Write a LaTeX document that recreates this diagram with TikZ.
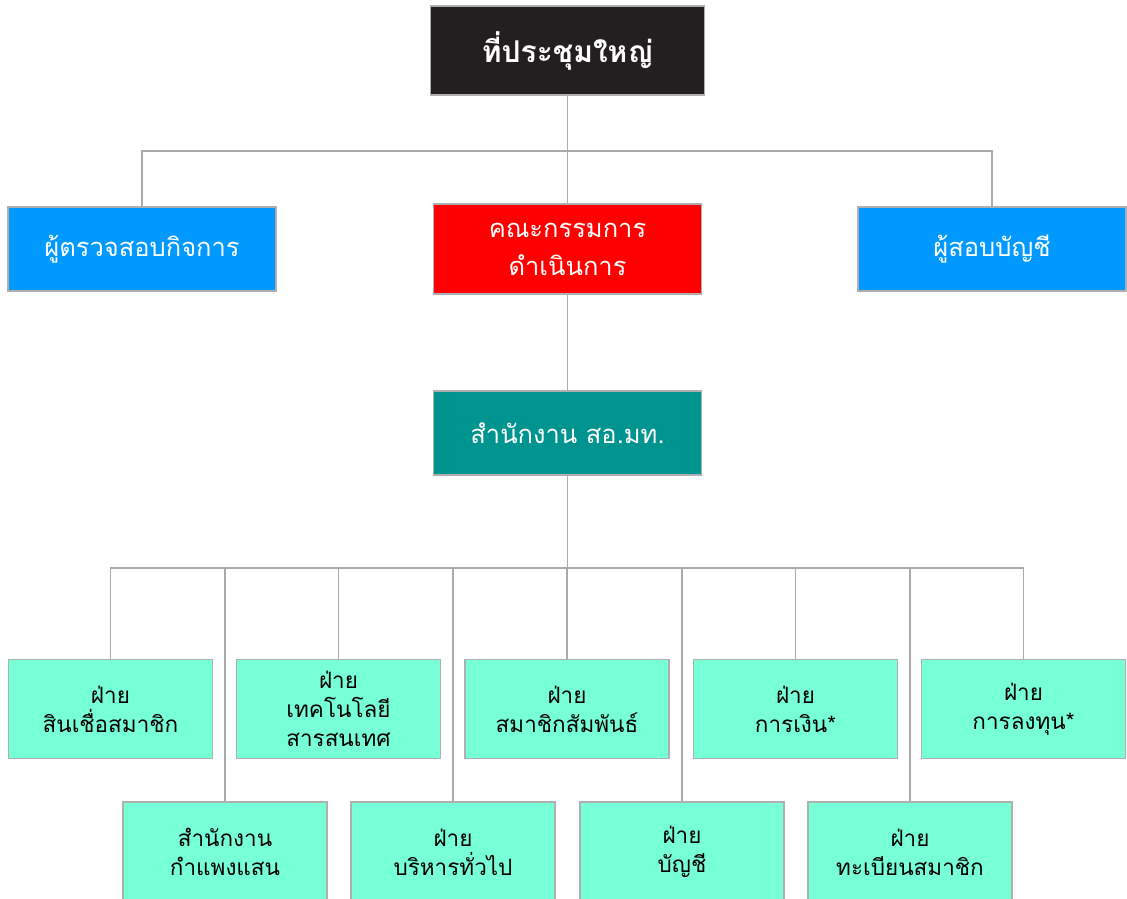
\documentclass[tikz,border=0pt]{standalone}
\usepackage{fontspec}
\newfontfamily\thai[Script=Thai]{Loma}
\definecolor{lineg}{RGB}{170,170,170}
\definecolor{boxline}{RGB}{175,175,175}
\definecolor{topfill}{RGB}{35,31,32}
\definecolor{bluefill}{RGB}{0,153,255}
\definecolor{tealfill}{RGB}{0,148,144}
\definecolor{mintfill}{RGB}{119,255,214}
\begin{document}
\begin{tikzpicture}[x=1pt,y=-1pt,
  box/.style={draw=boxline, line width=1.3pt, align=center, inner sep=0pt,
    font=\thai\fontsize{22.5}{29}\selectfont},
  bigbox/.style={box, minimum width=268pt, minimum height=84pt,
    font=\thai\fontsize{25.5}{38}\selectfont},
  unit/.style={box, fill=mintfill, text=black, minimum width=204pt, minimum height=99pt},
  conn/.style={draw=lineg, line width=1.2pt}]
\useasboundingbox (0,0) rectangle (1127,898);
\node[box, fill=topfill, text=white, minimum width=274pt, minimum height=89pt,
  font=\thai\bfseries\fontsize{30}{36}\selectfont] (top) at (567.5,50.5) {ที่ประชุมใหญ่};
\node[bigbox, fill=bluefill, text=white] (aud) at (142,249) {ผู้ตรวจสอบกิจการ};
\node[bigbox, fill=red, text=white, minimum height=90pt] (board) at (567.5,249) {คณะกรรมการ\\ดำเนินการ};
\node[bigbox, fill=bluefill, text=white] (acc) at (992,249) {ผู้สอบบัญชี};
\node[bigbox, fill=tealfill, text=white] (off) at (567.5,433) {สำนักงาน สอ.มท.};
% row 1
\node[unit] (u1) at (110.5,709) {ฝ่าย\\สินเชื่อสมาชิก};
\node[unit] (u3) at (338.5,709) {ฝ่าย\\เทคโนโลยี\\สารสนเทศ};
\node[unit] (u5) at (567,709) {ฝ่าย\\สมาชิกสัมพันธ์};
\node[unit] (u7) at (795.5,709) {ฝ่าย\\การเงิน*};
\node[unit] (u9) at (1023.5,709) {ฝ่าย\\การลงทุน*};
% row 2
\node[unit, minimum height=100pt] (u2) at (225,852) {สำนักงาน\\กำแพงแสน};
\node[unit, minimum height=100pt] (u4) at (453,852) {ฝ่าย\\บริหารทั่วไป};
\node[unit, minimum height=100pt] (u6) at (682,852) {ฝ่าย\\บัญชี};
\node[unit, minimum height=100pt] (u8) at (910,852) {ฝ่าย\\ทะเบียนสมาชิก};
% connectors
\coordinate (h1) at (567.5,151);
\draw[conn] (top.south) -- (h1);
\draw[conn] (aud.north) |- (h1) -| (acc.north);
\draw[conn] (h1) -- (board.north);
\draw[conn] (board.south) -- (off.north);
\coordinate (h2) at (567,568);
\draw[conn] (off.south) -- (off.south |- h2);
\draw[conn] (u1.north) |- (h2) -| (u9.north);
\foreach \n in {u2,u3,u4,u5,u6,u7,u8}{
  \draw[conn] (\n.north) -- (\n.north |- h2);
}
\end{tikzpicture}
\end{document}
